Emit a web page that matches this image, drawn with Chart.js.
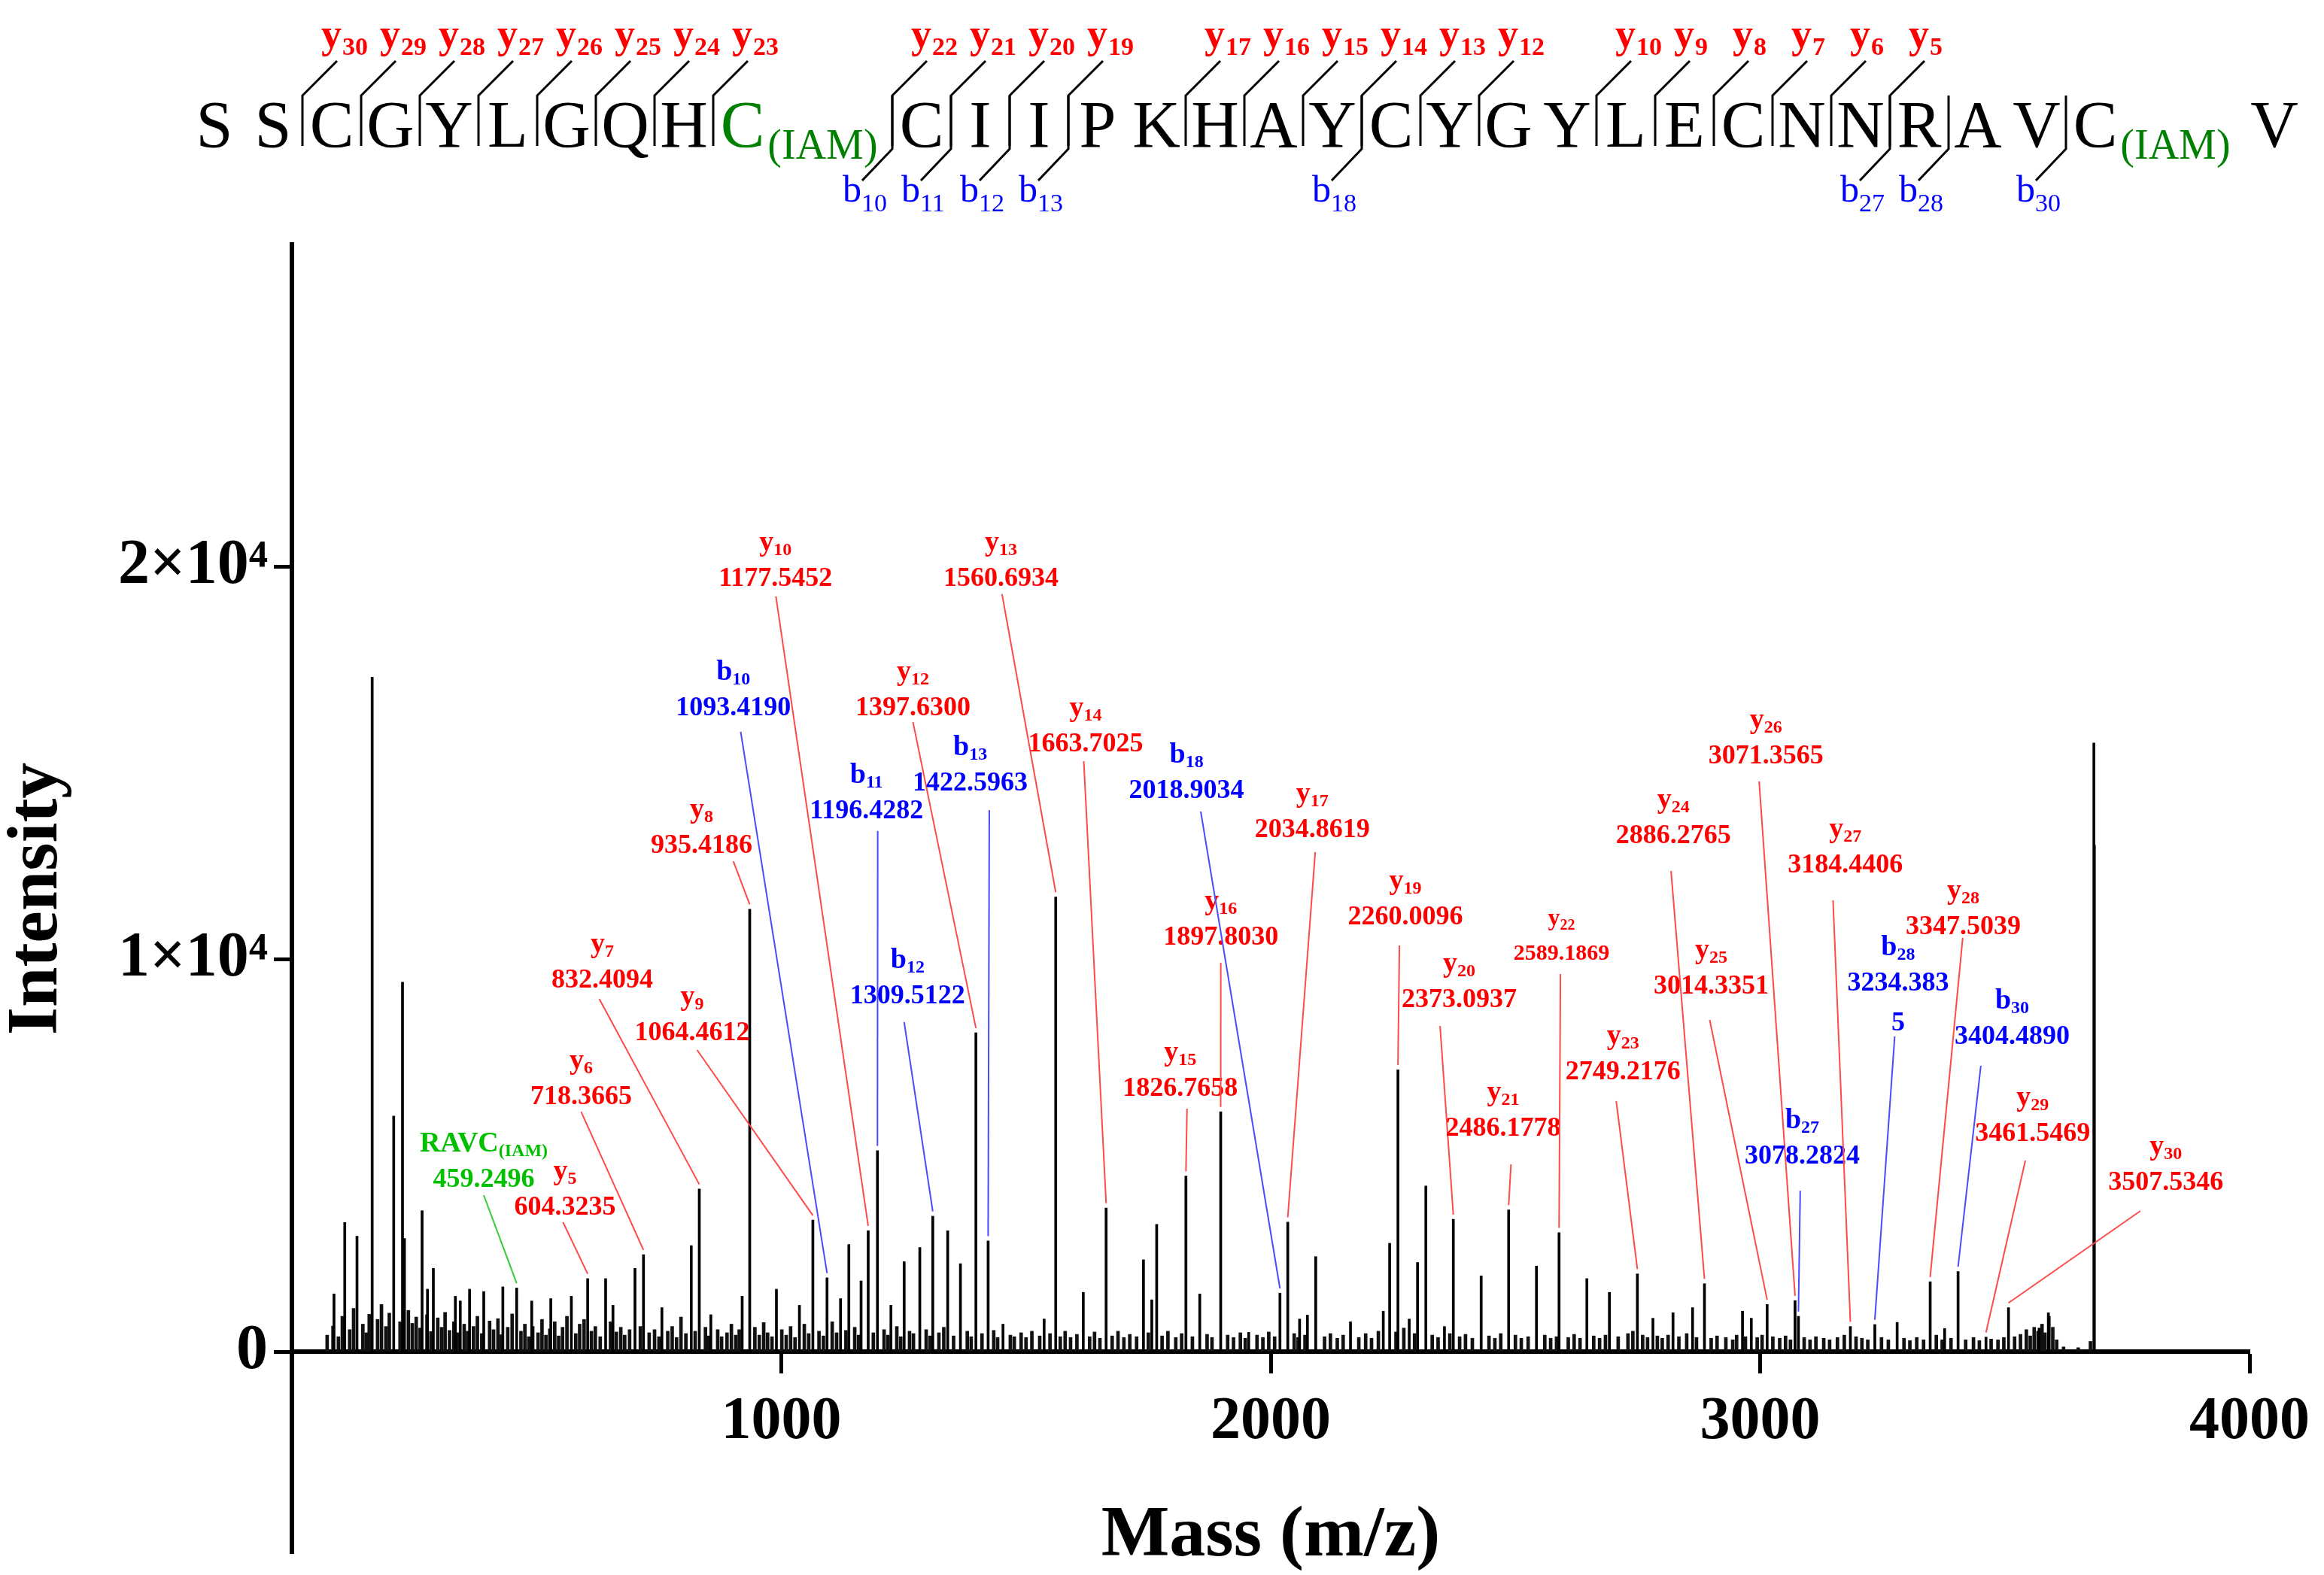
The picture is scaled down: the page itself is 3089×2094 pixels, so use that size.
<!DOCTYPE html>
<html>
<head>
<meta charset="utf-8">
<script src="https://cdn.jsdelivr.net/npm/chart.js@4.4.1/dist/chart.umd.min.js"></script>
<style>
  html, body { margin: 0; padding: 0; background: #fff; }
  #wrap { width: 3089px; height: 2094px; }
</style>
</head>
<body>
<div id="wrap"><canvas id="spectrum"></canvas></div>
<script>
// peptide sequence and matched fragments
const residues = ['S','S','C','G','Y','L','G','Q','H','C','C','I','I','P','K','H','A','Y','C','Y','G','Y','L','E','C','N','N','R','A','V','C','V'];
const iamSites = [9, 30];
const yIons = [30,29,28,27,26,25,24,23,22,21,20,19,17,16,15,14,13,12,10,9,8,7,6,5];
const bIons = [10,11,12,13,18,27,28,30];

// annotated fragment peaks
const annName = ['RAVC','y','y','y','y','y','b','y','b','b','y','b','y','y','y','y','b','y','y','y','y','y','y','y','y','y','b','y','b','y','b','y','y'];
const annSub = ['(IAM)','5','6','7','8','9','10','10','11','12','12','13','13','14','15','16','18','17','19','20','21','22','23','24','25','26','27','27','28','28','30','29','30'];
const annMz = [459.2496,604.3235,718.3665,832.4094,935.4186,1064.4612,1093.4190,1177.5452,1196.4282,1309.5122,1397.6300,1422.5963,1560.6934,1663.7025,1826.7658,1897.8030,2018.9034,2034.8619,2260.0096,2373.0937,2486.1778,2589.1869,2749.2176,2886.2765,3014.3351,3071.3565,3078.2824,3184.4406,3234.3835,3347.5039,3404.4890,3461.5469,3507.5346];
const annText = ['459.2496','604.3235','718.3665','832.4094','935.4186','1064.4612','1093.4190','1177.5452','1196.4282','1309.5122','1397.6300','1422.5963','1560.6934','1663.7025','1826.7658','1897.8030','2018.9034','2034.8619','2260.0096','2373.0937','2486.1778','2589.1869','2749.2176','2886.2765','3014.3351','3071.3565','3078.2824','3184.4406','3234.383\n5','3347.5039','3404.4890','3461.5469','3507.5346'];
const annInt = [1620,1860,2470,4140,11270,3350,1880,3080,5120,3450,8120,2820,11580,3660,4470,6110,1490,3300,7180,3370,3610,3030,1980,1730,1200,1300,900,640,690,1780,2040,370,1120];

// other (unassigned) peaks
const peakMz = [86,108,133,164,208,226,230,266,277,289,334,344,363,392,431,490,529,571,641,656,701,756,816,856,920,990,1037,1121,1138,1163,1224,1251,1283,1340,1366,1453,1537,1617,1740,1757,1767,1855,1955,2059,2075,2092,2163,2230,2243,2283,2300,2317,2355,2430,2543,2646,2692,2781,2822,2862,2964,2982,3280,3377,3570,3589,3682,3683];
const peakInt = [1470,3290,2940,17180,6000,9410,2880,3590,1590,2120,1410,1290,1590,1530,1650,1290,1350,1410,1860,1180,2120,1120,2700,940,1410,1590,1180,1350,2730,1800,1180,2290,2650,3080,2240,700,830,1510,2340,1320,3240,1470,490,830,930,2420,760,1030,2760,830,2270,4220,640,1930,2180,1860,1510,850,990,1120,1030,850,745,590,600,990,15500,12900];

// low level grass along the baseline [m/z, intensity]
const baselineNoise = [[72,420],[84,650],[95,380],[103,900],[118,560],[126,1100],[145,700],[152,480],[158,950],[175,820],[183,1200],[192,640],[199,980],[221,760],[238,1050],[246,720],[254,880],[262,600],[276,940],[284,510],[298,860],[306,620],[313,1000],[322,540],[331,760],[340,480],[352,700],[359,520],[371,640],[379,900],[388,460],[404,780],[412,560],[421,840],[428,430],[441,620],[450,960],[468,520],[476,700],[484,380],[492,640],[503,480],[511,820],[519,420],[527,580],[537,760],[545,400],[553,620],[562,900],[580,460],[588,700],[597,820],[612,520],[620,640],[630,380],[651,760],[663,500],[672,620],[680,420],[690,560],[712,640],[730,480],[741,560],[750,380],[768,520],[777,640],[786,360],[795,880],[805,460],[824,520],[845,620],[852,400],[870,560],[878,380],[889,480],[898,700],[907,420],[914,560],[946,620],[955,420],[964,740],[972,480],[981,380],[1001,560],[1010,420],[1019,640],[1028,360],[1047,700],[1056,460],[1077,520],[1086,400],[1104,760],[1113,480],[1132,540],[1150,620],[1158,420],[1188,480],[1210,560],[1218,420],[1236,640],[1244,380],[1262,520],[1270,460],[1296,560],[1304,400],[1322,480],[1332,620],[1352,400],[1380,520],[1388,380],[1410,460],[1434,540],[1442,360],[1468,420],[1476,380],[1490,480],[1500,360],[1512,520],[1528,400],[1549,460],[1570,380],[1580,520],[1591,360],[1604,440],[1630,380],[1640,500],[1651,340],[1676,400],[1688,520],[1700,360],[1712,440],[1726,380],[1750,480],[1778,400],[1790,520],[1806,360],[1818,460],[1840,380],[1870,440],[1880,360],[1912,420],[1924,360],[1938,480],[1948,340],[1972,420],[1984,360],[1996,500],[2008,380],[2048,460],[2056,360],[2070,420],[2110,380],[2122,460],[2136,340],[2148,420],[2180,360],[2194,460],[2206,340],[2220,520],[2256,500],[2272,600],[2294,460],[2330,420],[2342,360],[2366,460],[2386,380],[2398,440],[2412,340],[2446,400],[2458,340],[2470,460],[2500,420],[2512,340],[2526,380],[2560,420],[2572,340],[2584,380],[2608,360],[2620,440],[2632,340],[2660,400],[2672,340],[2684,420],[2710,380],[2730,460],[2740,520],[2760,420],[2770,360],[2790,400],[2800,340],[2812,420],[2834,380],[2850,460],[2870,360],[2900,340],[2912,400],[2930,360],[2944,300],[2952,420],[2970,380],[2994,360],[3004,420],[3026,380],[3040,340],[3052,400],[3062,300],[3090,360],[3102,300],[3114,380],[3130,340],[3142,300],[3158,360],[3172,420],[3196,380],[3208,340],[3220,300],[3248,360],[3262,300],[3294,340],[3306,280],[3320,360],[3334,300],[3360,420],[3372,300],[3390,340],[3420,300],[3436,360],[3448,280],[3472,320],[3486,300],[3498,360],[3520,380],[3532,440],[3544,560],[3552,400],[3560,620],[3568,520],[3576,700],[3582,480],[3590,900],[3598,620],[3606,300],[3620,120],[3650,100],[3675,260]];

const xTicks = [1000, 2000, 3000, 4000];
const yTicks = [0, 10000, 20000];
const yTickLabels = ['0', '1×10⁴', '2×10⁴'];

// where each label sits and where its leader line starts, in (m/z, intensity)
const annLabelAt = [[392,4370],[558,3660],[591,6475],[634,9445],[837,12875],[818,8105],[902,16380],[988,19680],[1174,13757],[1258,9043],[1269,16380],[1386,14466],[1449,19680],[1622,15460],[1815,6687],[1898,10538],[1828,14274],[2085,13278],[2275,11055],[2385,8948],[2475,5671],[2594,10136],[2720,7108],[2823,13125],[2900,9293],[3012,15156],[3086,4962],[3174,12377],[3282,9369],[3415,10806],[3515,8009],[3557,5537],[3829,4292]];
const annLineFrom = [[392,3985],[554,3295],[591,6110],[628,8985],[902,12490],[828,7683],[917,15790],[989,19237],[1197,13260],[1251,8392],[1269,16037],[1425,13795],[1451,19294],[1618,15040],[1829,6189],[1898,9906],[1857,13757],[2091,12722],[2263,10346],[2346,8296],[2491,4771],[2592,9618],[2706,6380],[2818,12243],[2897,8450],[2998,14523],[3082,4100],[3149,11496],[3275,8028],[3414,10538],[3451,7281],[3542,4867],[3777,3583]];
const compactLabels = [21];

const SERIF = '"Liberation Serif", "Times New Roman", serif';
const RED = '#ff0000', BLUE = '#0000ff', GREEN = '#00c000', DARKGREEN = '#008000';

function ionColor(name) {
  if (name === 'y') return RED;
  if (name === 'b') return BLUE;
  return GREEN;
}

// fragment labels with leader lines inside the plot
const fragmentLabels = {
  id: 'fragmentLabels',
  afterDatasetsDraw(chart) {
    const ctx = chart.ctx;
    const xs = chart.scales.x, ys = chart.scales.y;
    ctx.save();
    annMz.forEach((mz, i) => {
      const color = ionColor(annName[i]);
      const small = compactLabels.includes(i);
      const valSize = small ? 30 : 36;
      const nameSize = small ? 32 : 38;
      const subSize = small ? 20 : 24;
      const cx = xs.getPixelForValue(annLabelAt[i][0]);
      const cy = ys.getPixelForValue(annLabelAt[i][1]);

      // leader line
      ctx.strokeStyle = annName[i] === 'b' ? '#4a4aff' : (annName[i] === 'y' ? '#ff4a4a' : '#33cc33');
      ctx.lineWidth = 2;
      ctx.beginPath();
      ctx.moveTo(xs.getPixelForValue(annLineFrom[i][0]), ys.getPixelForValue(annLineFrom[i][1]));
      ctx.lineTo(xs.getPixelForValue(mz), ys.getPixelForValue(annInt[i] + 120));
      ctx.stroke();

      ctx.fillStyle = color;
      // m/z value (may wrap)
      ctx.font = 'bold ' + valSize + 'px ' + SERIF;
      ctx.textAlign = 'center';
      ctx.textBaseline = 'middle';
      annText[i].split('\n').forEach((line, k) => ctx.fillText(line, cx, cy + k * 53));

      // ion name with subscript
      ctx.textBaseline = 'alphabetic';
      ctx.textAlign = 'left';
      ctx.font = 'bold ' + nameSize + 'px ' + SERIF;
      const w1 = ctx.measureText(annName[i]).width;
      ctx.font = 'bold ' + subSize + 'px ' + SERIF;
      const w2 = ctx.measureText(annSub[i]).width;
      const left = cx - (w1 + w2) / 2;
      const base = cy - 38;
      ctx.font = 'bold ' + nameSize + 'px ' + SERIF;
      ctx.fillText(annName[i], left, base);
      ctx.font = 'bold ' + subSize + 'px ' + SERIF;
      ctx.fillText(annSub[i], left + w1, base + 6);
    });
    ctx.restore();
  }
};

// peptide sequence with fragment markers above the plot
const sequenceHeader = {
  id: 'sequenceHeader',
  afterDraw(chart) {
    const ctx = chart.ctx;
    const pitch = 78, baseY = 195, top = 127, bottom = 194;
    ctx.save();
    const centers = [];
    let x = 285;
    residues.forEach((r, i) => {
      centers.push(x);
      x += pitch + (iamSites.includes(i) ? 160 : 0);
    });
    // letters
    ctx.textBaseline = 'alphabetic';
    residues.forEach((r, i) => {
      ctx.font = '88px ' + SERIF;
      ctx.textAlign = 'center';
      ctx.fillStyle = i === iamSites[0] ? DARKGREEN : '#000';
      ctx.fillText(r, centers[i], baseY);
      if (iamSites.includes(i)) {
        const w = ctx.measureText(r).width;
        ctx.font = '56px ' + SERIF;
        ctx.textAlign = 'left';
        ctx.fillStyle = DARKGREEN;
        ctx.fillText('(IAM)', centers[i] + w / 2 + 4, baseY + 16);
      }
    });
    const boundary = (i) => centers[i + 1] - 39;
    ctx.strokeStyle = '#000';
    ctx.lineWidth = 3;
    ctx.lineJoin = 'miter';
    // y ions: bracket up and to the right
    yIons.forEach(n => {
      const bx = boundary(residues.length - n - 1);
      ctx.beginPath();
      ctx.moveTo(bx, bottom);
      ctx.lineTo(bx, top);
      ctx.lineTo(bx + 46, top - 46);
      ctx.stroke();
      ctx.fillStyle = RED;
      ctx.textAlign = 'left';
      ctx.font = 'bold 54px ' + SERIF;
      ctx.fillText('y', bx + 25, 63);
      const w = ctx.measureText('y').width;
      ctx.font = 'bold 34px ' + SERIF;
      ctx.fillText(String(n), bx + 25 + w + 1, 73);
    });
    // b ions: bracket down and to the left
    bIons.forEach(n => {
      const bx = boundary(n - 1);
      ctx.beginPath();
      ctx.moveTo(bx, top);
      ctx.lineTo(bx, bottom + 4);
      ctx.lineTo(bx - 40, 240);
      ctx.stroke();
      ctx.fillStyle = BLUE;
      ctx.textAlign = 'left';
      ctx.font = '50px ' + SERIF;
      ctx.fillText('b', bx - 66, 268);
      const w = ctx.measureText('b').width;
      ctx.font = '34px ' + SERIF;
      ctx.fillText(String(n), bx - 66 + w, 281);
    });
    ctx.restore();
  }
};

const allPeaks = peakMz.map((mz, i) => ({ x: mz, y: peakInt[i] }))
  .concat(annMz.map((mz, i) => ({ x: mz, y: annInt[i] })));
const noisePoints = baselineNoise.map(p => ({ x: p[0], y: p[1] }));

new Chart(document.getElementById('spectrum'), {
  type: 'bar',
  data: {
    datasets: [
      { label: 'peaks', data: allPeaks, backgroundColor: '#000', barThickness: 3, grouped: false },
      { label: 'baseline', data: noisePoints, backgroundColor: '#111', barThickness: 4, grouped: false }
    ]
  },
  options: {
    responsive: true,
    maintainAspectRatio: false,
    devicePixelRatio: 1,
    animation: false,
    layout: { padding: { top: 325, bottom: 29, right: 99, left: 0 } },
    plugins: { legend: { display: false }, tooltip: { enabled: false } },
    scales: {
      x: {
        type: 'linear',
        position: { y: 0 },
        min: 0,
        max: 4000,
        offset: false,
        afterBuildTicks: (scale) => { scale.ticks = xTicks.map(v => ({ value: v })); },
        afterFit: (scale) => { scale.paddingLeft = 0; scale.paddingRight = 0; },
        grid: { display: true, drawOnChartArea: false, drawTicks: true, tickLength: 26, tickWidth: 5, tickColor: '#000', offset: false },
        border: { display: true, color: '#000', width: 6 },
        ticks: {
          color: '#000',
          padding: 28,
          maxRotation: 0,
          autoSkip: false,
          font: { family: SERIF, size: 80, weight: 'bold', lineHeight: 1.0 },
          callback: (v) => String(v)
        },
        title: {
          display: true,
          text: 'Mass (m/z)',
          color: '#000',
          padding: { top: 36, bottom: 0 },
          font: { family: SERIF, size: 96, weight: 'bold', lineHeight: 1.0 }
        }
      },
      y: {
        min: -5134,
        max: 28200,
        afterBuildTicks: (scale) => { scale.ticks = yTicks.map(v => ({ value: v })); },
        afterFit: (scale) => { scale.width = 388; scale.paddingTop = 0; scale.paddingBottom = 0; },
        grid: { display: true, drawOnChartArea: false, drawTicks: true, tickLength: 24, tickWidth: 5, tickColor: '#000' },
        border: { display: true, color: '#000', width: 6 },
        ticks: {
          color: '#000',
          padding: 8,
          autoSkip: false,
          font: { family: SERIF, size: 84, weight: 'bold' },
          callback: (v) => yTickLabels[yTicks.indexOf(v)]
        },
        title: {
          display: true,
          text: 'Intensity',
          color: '#000',
          padding: { top: 0, bottom: 0 },
          font: { family: SERIF, size: 96, weight: 'bold', lineHeight: 1.05 }
        }
      }
    }
  },
  plugins: [fragmentLabels, sequenceHeader]
});
</script>
</body>
</html>
